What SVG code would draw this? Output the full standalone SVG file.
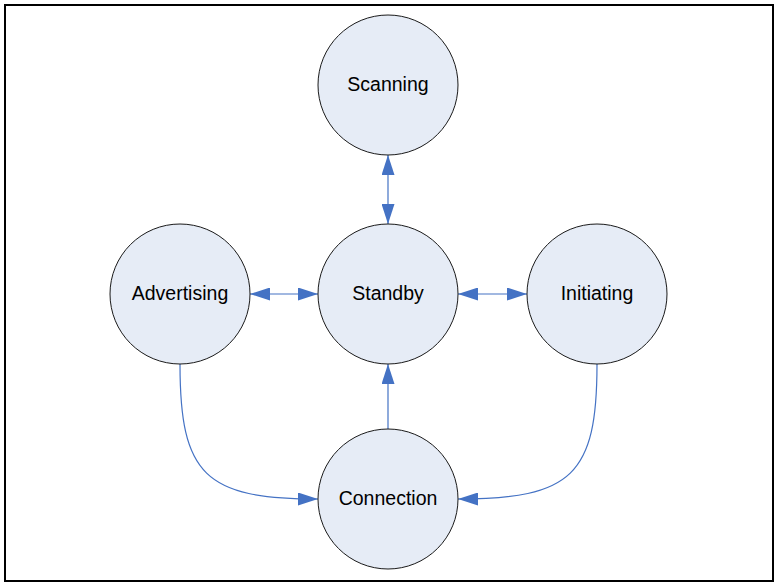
<svg xmlns="http://www.w3.org/2000/svg" width="778" height="587" viewBox="0 0 778 587">
<style>
.node circle{fill:#E6ECF6;stroke:#1a1a1a;stroke-width:1}
.node text{font-family:"Liberation Sans",Arial,sans-serif;font-size:19.5px;fill:#000;text-anchor:middle;dominant-baseline:central}
.conn{fill:none;stroke:#4472C4;stroke-width:1.2}
</style>
<defs>
<marker id="ah" viewBox="0 0 20 13" refX="20" refY="6.5" markerWidth="20" markerHeight="13" markerUnits="userSpaceOnUse" orient="auto-start-reverse">
<path d="M0,0 L20,6.5 L0,13 Z" fill="#4472C4"/>
</marker>
</defs>
<rect x="5" y="5" width="768" height="576" fill="#fff" stroke="#000" stroke-width="2"/>
<g id="connectors">
<line class="conn" x1="388" y1="155" x2="388" y2="224" marker-start="url(#ah)" marker-end="url(#ah)"/>
<line class="conn" x1="250" y1="294" x2="318" y2="294" marker-start="url(#ah)" marker-end="url(#ah)"/>
<line class="conn" x1="458" y1="294" x2="527" y2="294" marker-start="url(#ah)" marker-end="url(#ah)"/>
<line class="conn" x1="388" y1="429" x2="388" y2="364" marker-end="url(#ah)"/>
<path class="conn" d="M180,364 C180,475 205,499 318,499" marker-end="url(#ah)"/>
<path class="conn" d="M597,364 C597,475 572,499 458,499" marker-end="url(#ah)"/>
</g>
<g id="scanning" class="node"><circle cx="388" cy="85" r="70"/><text x="388" y="84">Scanning</text></g>
<g id="standby" class="node"><circle cx="388" cy="294" r="70"/><text x="388" y="293">Standby</text></g>
<g id="advertising" class="node"><circle cx="180" cy="294" r="70"/><text x="180" y="293">Advertising</text></g>
<g id="initiating" class="node"><circle cx="597" cy="294" r="70"/><text x="597" y="293">Initiating</text></g>
<g id="connection" class="node"><circle cx="388" cy="499" r="70"/><text x="388" y="498">Connection</text></g>
</svg>
